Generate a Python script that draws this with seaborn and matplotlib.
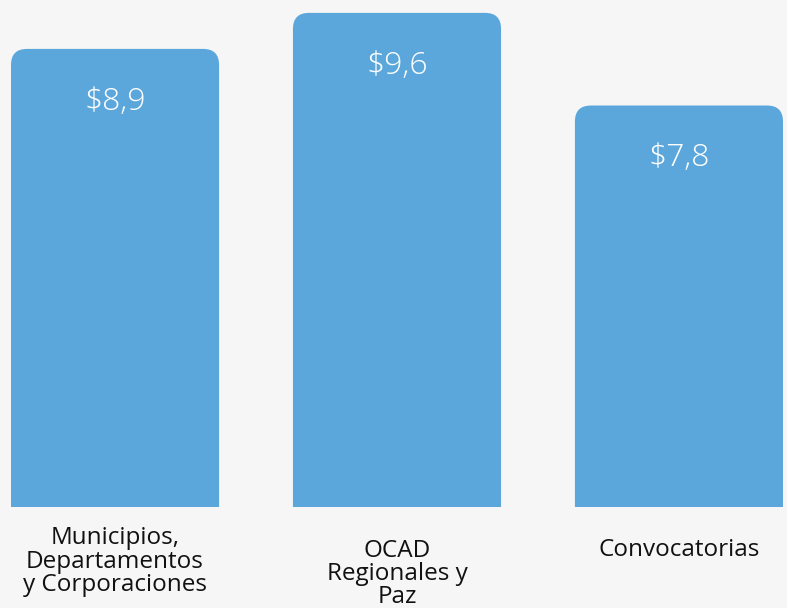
import pandas as pd
import matplotlib
matplotlib.use("Agg")
import matplotlib.pyplot as plt
import seaborn as sns
from matplotlib.patches import FancyBboxPatch

categorias = ["Municipios,\nDepartamentos\ny Corporaciones", "OCAD\nRegionales y\nPaz", "Convocatorias"]
valores = [8.9, 9.6, 7.8]
etiquetas = ["$8,9", "$9,6", "$7,8"]

fondo = "#f6f6f6"
azul = "#5ba7db"

sns.set_theme(style="white")
plt.rcParams["font.family"] = ["Open Sans", "DejaVu Sans"]

df = pd.DataFrame({"categoria": categorias, "valor": valores})

fig = plt.figure(figsize=(7.87, 6.08), dpi=100, facecolor=fondo)
ax = fig.add_axes([11 / 787, 101 / 608, 772 / 787, 507 / 608])
ax.set_facecolor(fondo)

sns.barplot(data=df, x="categoria", y="valor", color=azul, width=0.738,
            saturation=1, ax=ax)
ax.set_xlim(-0.369, 2.369)
ax.set_ylim(0, 9.85)

# reemplazar barras por barras con esquinas superiores redondeadas
fig.canvas.draw()
inv = ax.transData.inverted()
x0, y0 = inv.transform((0, 0))
x1, y1 = inv.transform((1, 1))
px_x = x1 - x0
px_y = y1 - y0
radio = 16
for p in list(ax.patches):
    bx, bw, bh = p.get_x(), p.get_width(), p.get_height()
    p.set_visible(False)
    caja = FancyBboxPatch((bx, -1), bw, bh + 1,
                          boxstyle=f"round,pad=0,rounding_size={radio * px_x}",
                          mutation_aspect=px_y / px_x,
                          facecolor=azul, edgecolor="none", clip_on=True)
    ax.add_patch(caja)

for i, (v, t) in enumerate(zip(valores, etiquetas)):
    ax.annotate(t, (i, v), xytext=(0, -38), textcoords="offset points",
                ha="center", va="center", color="white", fontsize=23,
                fontweight="light")

ax.set_xlabel("")
ax.set_ylabel("")
ax.set_yticks([])
ax.tick_params(axis="x", length=0, labelsize=17.5, labelcolor="#111111")
for lab in ax.get_xticklabels():
    lab.set_linespacing(0.95)
pads = [14, 23, 22]
for tk, pd_ in zip(ax.xaxis.get_major_ticks(), pads):
    tk.set_pad(pd_)
sns.despine(ax=ax, left=True, bottom=True)

fig.savefig("out.png", dpi=100, facecolor=fondo)
